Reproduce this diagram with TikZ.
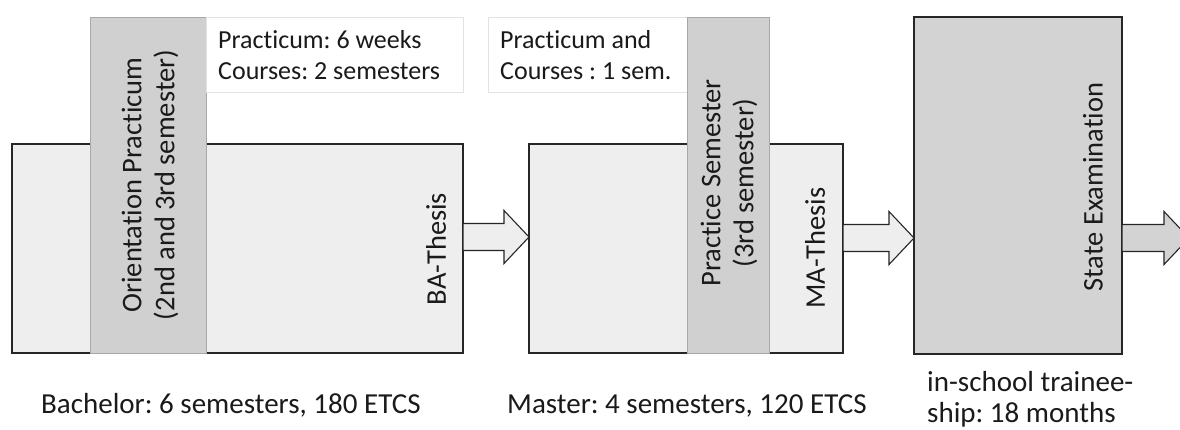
\documentclass[tikz,border=0pt]{standalone}
\usepackage{fontspec}
\setmainfont{Carlito}[Ligatures=NoCommon]
\frenchspacing
\usetikzlibrary{calc}
\definecolor{boxfill}{HTML}{EEEEEE}
\definecolor{darkfill}{HTML}{D3D3D3}
\definecolor{bandfill}{HTML}{D0D0D0}
\definecolor{bandline}{HTML}{A8A8A8}
\definecolor{edge}{HTML}{262626}
\definecolor{noteline}{HTML}{E2E2E2}
\definecolor{ink}{HTML}{1A1A1A}

% block arrow from a start point to a tip point (same height)
\newcommand\blockarrow[3][]{%
  \filldraw[arrowshape,#1] let \p1=(#2), \p2=(#3) in
    (\x1,\y1+13.5) -- (\x2-25,\y1+13.5) -- (\x2-25,\y1+26.5) -- (\x2,\y1)
    -- (\x2-25,\y1-26.5) -- (\x2-25,\y1-13.5) -- (\x1,\y1-13.5) -- cycle;}

\begin{document}
\begin{tikzpicture}[x=1pt,y=-1pt,
  stage/.style={draw=edge,line width=1.4pt,fill=boxfill,anchor=north west,
    inner sep=0pt,outer sep=0pt},
  band/.style={draw=bandline,line width=1pt,fill=bandfill,anchor=north west,
    inner sep=0pt,outer sep=0pt},
  note/.style={draw=noteline,line width=0.8pt,fill=white,anchor=north west,
    inner sep=0pt,outer sep=0pt},
  arrowshape/.style={draw=edge,line width=1.1pt,fill=boxfill,line join=miter},
  vlabel/.style={rotate=90,align=center,text=ink,inner sep=0pt,
    font=\fontsize{28.5}{33}\selectfont},
  notetext/.style={anchor=base west,align=left,text=ink,inner sep=0pt,
    font=\fontsize{26}{31}\selectfont},
  caption/.style={anchor=base west,align=left,text=ink,inner sep=0pt,
    font=\fontsize{29}{31}\selectfont}]
\useasboundingbox (0,0) rectangle (1180,429);
\fill[white] (0,0) rectangle (1180,429);

% Bachelor stage
\node[stage,minimum width=451pt,minimum height=209pt] (bach) at (12,144) {};
\node[band,minimum width=116pt,minimum height=336pt] (orient) at (90,17) {};
\node[note,minimum width=257pt,minimum height=75pt] (note1) at (206,17) {};
\node[notetext] (note1txt) at (218,79) {Practicum: 6 weeks\\Courses: 2 semesters};
\node[vlabel] (orienttxt) at (150,185) {Orientation Practicum\\(2nd and 3rd semester)};
\node[vlabel] (bathesis) at (436,249) {BA-Thesis};

% Master stage
\node[stage,minimum width=314pt,minimum height=209pt] (mast) at (529,144) {};
\node[note,minimum width=199pt,minimum height=75pt] (note2) at (488,17) {};
\node[notetext] (note2txt) at (500,79) {Practicum and\\Courses : 1 sem.};
\node[band,minimum width=82pt,minimum height=336pt] (practice) at (687,17) {};
\node[vlabel] (practicetxt) at (729,183) {Practice Semester\\(3rd semester)};
\node[vlabel] (mathesis) at (815,248) {MA-Thesis};

% Traineeship stage
\node[stage,fill=darkfill,minimum width=208pt,minimum height=337pt] (train) at (914,17) {};
\node[vlabel] (exam) at (1093,187) {State Examination};

% captions below the stages
\node[caption] (bachcap) at (41,413) {Bachelor: 6 semesters, 180 ETCS};
\node[caption] (mastcap) at (507,413) {Master: 4 semesters, 120 ETCS};
\node[caption] (traincap) at (927,422) {in-school trainee-\\ship: 18 months};

% transitions between the stages
\coordinate (lvl) at (0,237);
\coordinate (lvlb) at (0,238);
\coordinate (out) at (1189,238);
\blockarrow{bach.east |- lvl}{mast.west |- lvl}
\blockarrow{mast.east |- lvlb}{train.west |- lvlb}
\blockarrow[fill=darkfill]{train.east |- lvlb}{out}
\end{tikzpicture}
\end{document}
